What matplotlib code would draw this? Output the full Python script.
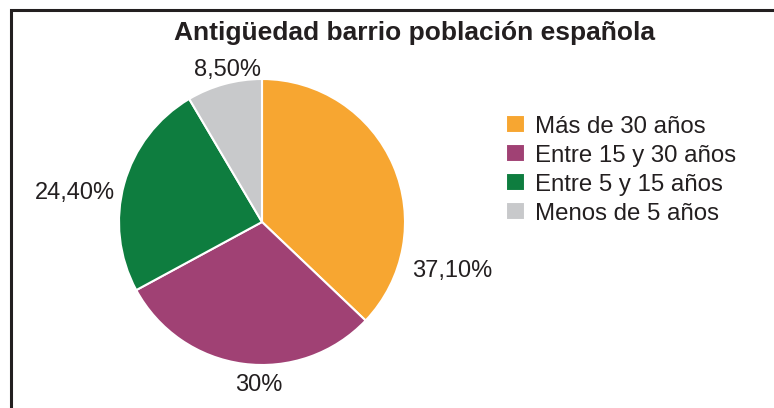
import matplotlib
matplotlib.use('Agg')
import matplotlib.pyplot as plt
from matplotlib.patches import Rectangle

plt.rcParams['font.family'] = ['Liberation Sans', 'DejaVu Sans']

# data
categories = ['Más de 30 años', 'Entre 15 y 30 años', 'Entre 5 y 15 años', 'Menos de 5 años']
values = [37.10, 30.0, 24.40, 8.50]
value_labels = ['37,10%', '30%', '24,40%', '8,50%']
colors = ['#F7A631', '#A04174', '#0E7D3F', '#C8C9CB']

# label positions, in pie units (radius = 1)
label_pos = [(1.33, -0.34), (-0.02, -1.14), (-1.31, 0.20), (-0.24, 1.06)]

W, H = 774, 408
fig = plt.figure(figsize=(W / 100, H / 100), dpi=100)

# pie centre (262, 222) px, radius 143 px
cx, cy, r = 262, 222, 143
ax = fig.add_axes([(cx - r) / W, (H - cy - r) / H, 2 * r / W, 2 * r / H])
wedges, _ = ax.pie(values, colors=colors, startangle=90, counterclock=False,
                   radius=1, wedgeprops=dict(edgecolor='white', linewidth=1.5))
ax.set_xlim(-1, 1)
ax.set_ylim(-1, 1)
ax.set_aspect('equal')
ax.axis('off')

for txt, (x, y) in zip(value_labels, label_pos):
    ax.text(x, y, txt, ha='center', va='center', fontsize=17, color='#231F20',
            clip_on=False)

fig.text(415 / W, 1 - 33 / H, 'Antigüedad barrio población española',
         ha='center', va='center', fontsize=19, fontweight='bold', color='#231F20')

fig.legend(wedges, categories, loc='upper left',
           bbox_to_anchor=(506 / W, 1 - 115 / H), frameon=False,
           fontsize=17.3, handlelength=0.8, handleheight=0.8,
           handletextpad=0.42, labelspacing=0.27, borderpad=0, borderaxespad=0,
           labelcolor='#231F20')

# frame: only left and top edges are visible in the crop
fig.add_artist(Rectangle((11 / W, -0.2), 1.2, 1.2 - 9.5 / H,
                         transform=fig.transFigure, fill=False,
                         edgecolor='#231F20', linewidth=2.2))

fig.savefig('out.png', dpi=100)
